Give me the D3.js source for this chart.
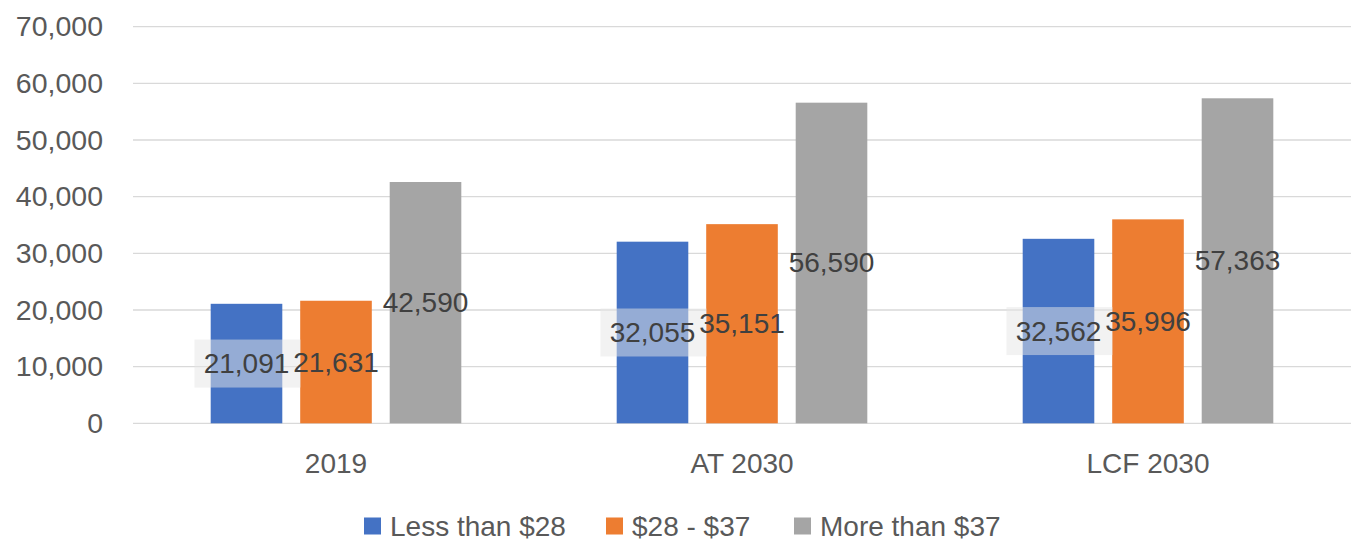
<!DOCTYPE html>
<html>
<head>
<meta charset="utf-8">
<script src="https://cdn.jsdelivr.net/npm/d3@7"></script>
<style>
  body { margin: 0; background: #fff; }
  svg { display: block; font-family: "Liberation Sans", Arial, sans-serif; }
</style>
</head>
<body>
<svg id="chart" width="1356" height="542"></svg>
<script>
const categories = ["2019", "AT 2030", "LCF 2030"];
const seriesNames = ["Less than $28", "$28 - $37", "More than $37"];
const lessThan28 = [21091, 32055, 32562];
const from28to37 = [21631, 35151, 35996];
const moreThan37 = [42590, 56590, 57363];
const yTicks = [0, 10000, 20000, 30000, 40000, 50000, 60000, 70000];
const colors = ["#4472C4", "#ED7D31", "#A5A5A5"];

const seriesValues = [lessThan28, from28to37, moreThan37];
const data = categories.map((c, i) => ({
  category: c,
  values: seriesNames.map((s, j) => ({ series: s, idx: j, value: seriesValues[j][i] }))
}));

const svg = d3.select("#chart");
const margin = { left: 133, right: 5, top: 26.7, bottom: 118.7 };
const W = 1356, H = 542;

const x0 = d3.scaleBand().domain(categories).range([margin.left, W - margin.right]).padding(0);
const x1 = d3.scaleBand().domain(seriesNames).range([0, x0.bandwidth()]).paddingInner(0.2).paddingOuter(0.868);
const y = d3.scaleLinear().domain([0, 70000]).range([H - margin.bottom, margin.top]);

// gridlines
svg.append("g")
  .selectAll("line")
  .data(yTicks)
  .join("line")
  .attr("x1", margin.left).attr("x2", W - margin.right)
  .attr("y1", d => y(d)).attr("y2", d => y(d))
  .attr("stroke", "#d9d9d9").attr("stroke-width", 1.3);

// y axis labels
const yAxis = d3.axisLeft(y).tickValues(yTicks).tickFormat(d3.format(",")).tickSize(0).tickPadding(30);
const gy = svg.append("g").attr("transform", `translate(${margin.left},0)`).call(yAxis);
gy.select(".domain").remove();
gy.selectAll("text").attr("font-size", 28.5).attr("fill", "#595959").attr("font-family", "Liberation Sans, Arial, sans-serif");

// x axis labels
const xAxis = d3.axisBottom(x0).tickSize(0).tickPadding(30);
const gx = svg.append("g").attr("transform", `translate(0,${y(0)})`).call(xAxis);
gx.select(".domain").remove();
gx.selectAll("text").attr("font-size", 28).attr("fill", "#595959").attr("font-family", "Liberation Sans, Arial, sans-serif");

// bars
const groups = svg.append("g").selectAll("g")
  .data(data).join("g")
  .attr("transform", d => `translate(${x0(d.category)},0)`);

groups.selectAll("rect")
  .data(d => d.values).join("rect")
  .attr("x", d => x1(d.series))
  .attr("width", x1.bandwidth())
  .attr("y", d => y(d.value))
  .attr("height", d => y(0) - y(d.value))
  .attr("fill", d => colors[d.idx]);

// labels
const labelLayer = svg.append("g");
data.forEach(d => {
  d.values.forEach(v => {
    const cx = x0(d.category) + x1(v.series) + x1.bandwidth() / 2;
    const cy = (y(v.value) + y(0)) / 2;
    if (v.idx === 0) {
      labelLayer.append("rect")
        .attr("x", cx - 52).attr("y", cy - 24)
        .attr("width", 106).attr("height", 48)
        .attr("fill", "#e6e6e6").attr("fill-opacity", 0.5);
    }
    labelLayer.append("text")
      .attr("x", cx).attr("y", cy)
      .attr("text-anchor", "middle")
      .attr("dominant-baseline", "central")
      .attr("font-size", 28)
      .attr("fill", "#404040")
      .text(d3.format(",")(v.value));
  });
});

// legend
const legend = svg.append("g").attr("transform", `translate(0,526)`);
const legendX = [364, 606, 794];
seriesNames.forEach((s, i) => {
  legend.append("rect").attr("x", legendX[i]).attr("y", -8.5).attr("width", 17).attr("height", 17).attr("fill", colors[i]);
  legend.append("text").attr("x", legendX[i] + 26).attr("y", 0)
    .attr("dominant-baseline", "central")
    .attr("font-size", 28).attr("fill", "#595959").text(s);
});
</script>
</body>
</html>
